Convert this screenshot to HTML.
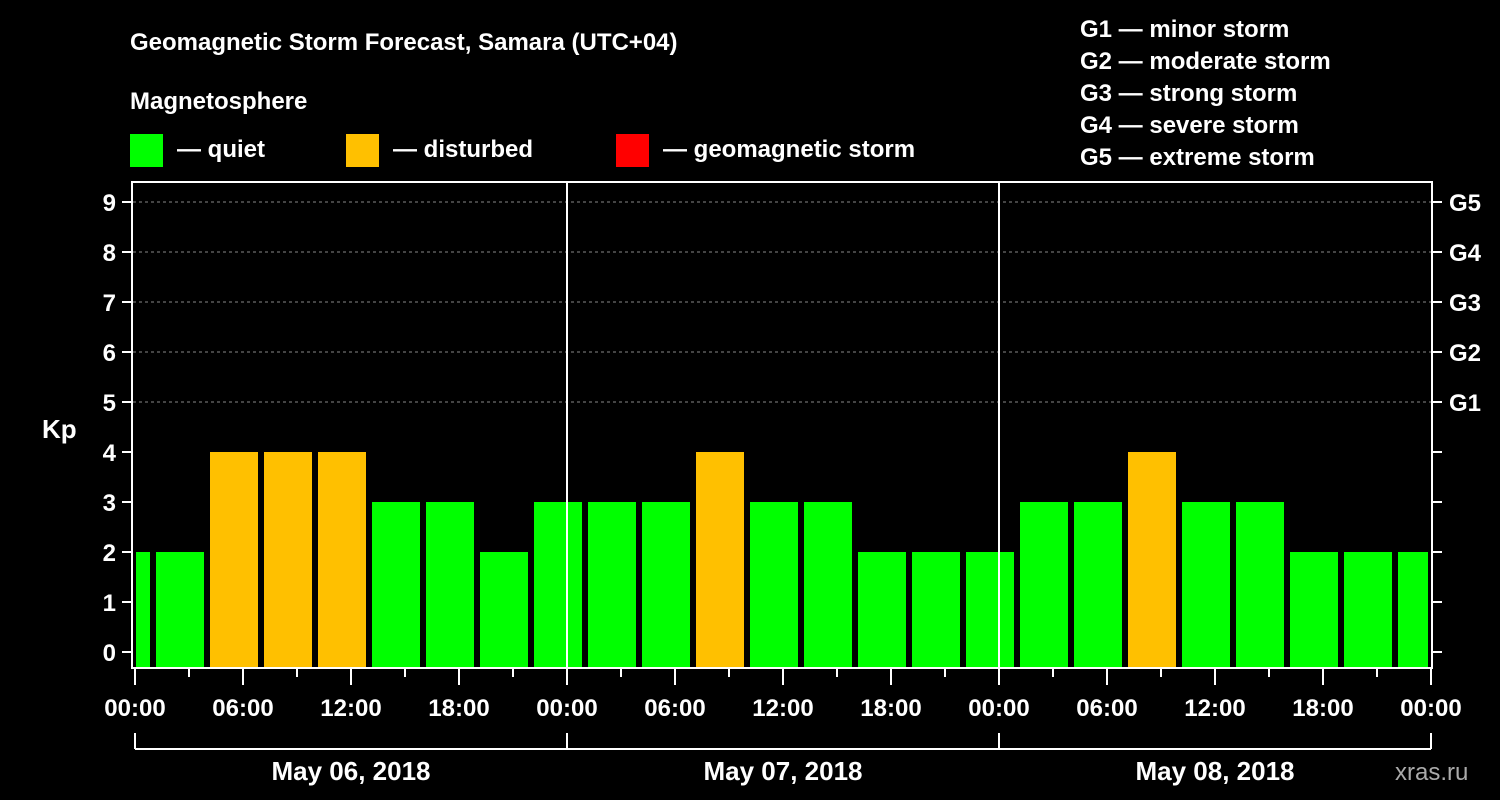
<!DOCTYPE html>
<html><head><meta charset="utf-8"><style>
body{margin:0;background:#000;}
svg{display:block;font-family:"Liberation Sans",sans-serif;font-weight:bold;}
</style></head><body>
<svg id="c" width="1500" height="800" viewBox="0 0 1500 800">
<rect width="1500" height="800" fill="#000"/>
<text x="130" y="50" fill="#fff" font-size="24">Geomagnetic Storm Forecast, Samara (UTC+04)</text>
<text x="130" y="109" fill="#fff" font-size="24">Magnetosphere</text>
<g><rect x="130" y="134" width="33" height="33" fill="#00ff00"/><text x="177" y="157" fill="#fff" font-size="24">— quiet</text></g>
<g><rect x="346" y="134" width="33" height="33" fill="#ffc000"/><text x="393" y="157" fill="#fff" font-size="24">— disturbed</text></g>
<g><rect x="616" y="134" width="33" height="33" fill="#ff0000"/><text x="663" y="157" fill="#fff" font-size="24">— geomagnetic storm</text></g>
<g fill="#fff" font-size="24">
<text x="1080" y="37">G1 — minor storm</text><text x="1080" y="69">G2 — moderate storm</text><text x="1080" y="101">G3 — strong storm</text><text x="1080" y="133">G4 — severe storm</text><text x="1080" y="165">G5 — extreme storm</text></g>
<text x="42" y="438" fill="#fff" font-size="26">Kp</text>
<text x="1395" y="780" fill="#aaa" font-size="24" font-weight="normal">xras.ru</text>
<g id="plot"></g>
</svg>
<script>
const kpValues=[2,2,4,4,4,3,3,2,3,3,3,4,3,3,2,2,2,3,3,4,3,3,2,2,2];
const binStartHour=-2;
const dayLabels=["May 06, 2018","May 07, 2018","May 08, 2018"];
const hourLabels=["00:00","06:00","12:00","18:00"];
const gLabels=["G1","G2","G3","G4","G5"];
const NS="http://www.w3.org/2000/svg";
const X0=135,PXH=18,Y0=652,PXK=50,TOTAL=72;
const xs=h=>X0+h*PXH, ys=k=>Y0-k*PXK;
const g=document.getElementById('plot');
function mk(t,a,txt){const e=document.createElementNS(NS,t);for(const k in a)e.setAttribute(k,a[k]);if(txt!=null)e.textContent=txt;g.appendChild(e);return e;}
// grid
for(let k=5;k<=9;k++){const l=mk('line',{x1:133,x2:1431,y1:ys(k),y2:ys(k),stroke:'#888','stroke-dasharray':'3,3','stroke-width':1});

}
// bars
kpValues.forEach((v,i)=>{let h0=binStartHour+i*3,h1=h0+3;let a=Math.max(0,h0),b=Math.min(TOTAL,h1);
let x0=xs(a)+(h0<0?1:3),x1=xs(b)-(h1>TOTAL?3:3);
const c=v>=5?'#ff0000':(v>=4?'#ffc000':'#00ff00');
const r=mk('rect',{x:x0,y:ys(v),width:x1-x0,height:667-ys(v),fill:c});

});
// day separators
for(let d=1;d<3;d++){const l=mk('line',{x1:xs(d*24),x2:xs(d*24),y1:182,y2:668,stroke:'#fff','stroke-width':2});

}
// frame
const f=mk('rect',{x:132,y:182,width:1300,height:486,fill:'none',stroke:'#fff','stroke-width':2});


// y ticks
for(let k=0;k<=9;k++){mk('line',{x1:122,x2:131,y1:ys(k),y2:ys(k),stroke:'#fff','stroke-width':2});
mk('line',{x1:1433,x2:1442,y1:ys(k),y2:ys(k),stroke:'#fff','stroke-width':2});
const t=mk('text',{x:116,y:ys(k)+9,fill:'#fff','font-size':24,'text-anchor':'end'},String(k));

}
gLabels.forEach((s,i)=>{const t=mk('text',{x:1449,y:ys(5+i)+9,fill:'#fff','font-size':24},s);

});
// x ticks
for(let h=0;h<=TOTAL;h+=3){const maj=h%6==0;mk('line',{x1:xs(h),x2:xs(h),y1:669,y2:maj?685:677,stroke:'#fff','stroke-width':2});
if(maj){const t=mk('text',{x:xs(h),y:716,fill:'#fff','font-size':24,'text-anchor':'middle'},hourLabels[(h%24)/6]);

}}
// day brackets
mk('line',{x1:xs(0),x2:xs(TOTAL),y1:749,y2:749,stroke:'#fff','stroke-width':2});
for(let d=0;d<=3;d++)mk('line',{x1:xs(d*24),x2:xs(d*24),y1:733,y2:749,stroke:'#fff','stroke-width':2});
dayLabels.forEach((s,d)=>{const t=mk('text',{x:xs(d*24+12),y:780,fill:'#fff','font-size':26,'text-anchor':'middle'},s);

});
</script>
</body></html>
